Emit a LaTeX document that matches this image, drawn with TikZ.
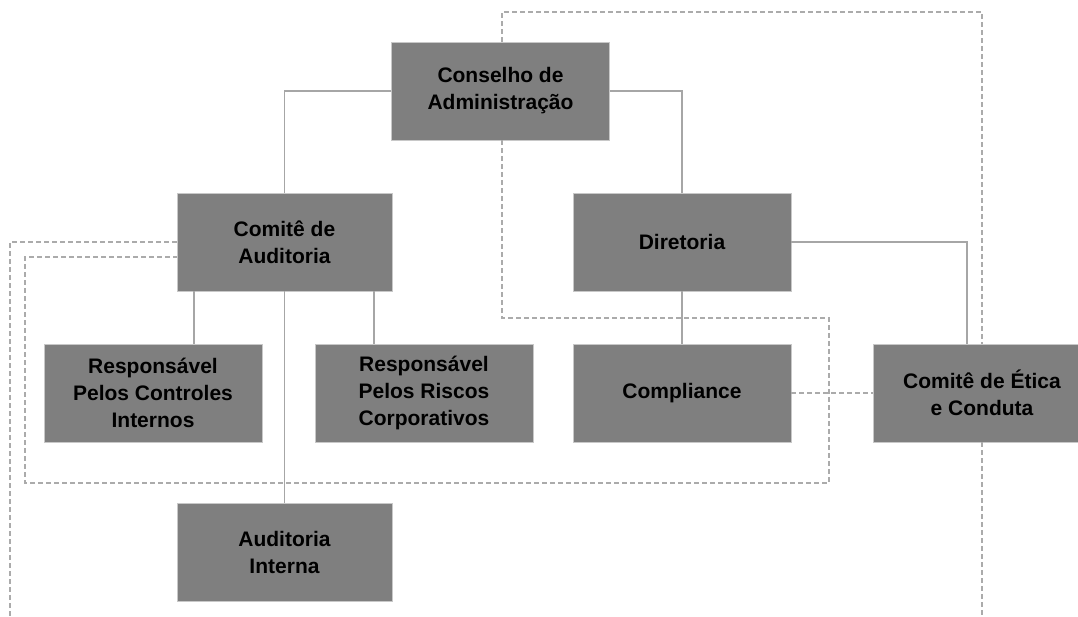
\documentclass[tikz,border=0pt]{standalone}
\usepackage{fontspec}
\setmainfont{Liberation Sans}
\begin{document}
\begin{tikzpicture}[x=1pt,y=-1pt,
  box/.style={fill=boxgray, draw=boxedge, line width=0.8pt, minimum width=218pt, minimum height=98pt,
    inner sep=0pt, align=center, font=\fontsize{21}{27}\selectfont\bfseries, text=black},
  conn/.style={draw=linegray, line width=1.4pt},
  dconn/.style={draw=dashgray, line width=1.4pt, dash pattern=on 5pt off 3pt}]
\definecolor{boxgray}{HTML}{7F7F7F}
\definecolor{boxedge}{HTML}{C8C8C8}
\definecolor{linegray}{HTML}{A6A6A6}
\definecolor{dashgray}{HTML}{ABABAB}
\useasboundingbox (0,0) rectangle (1078,616);
\clip (0,0) rectangle (1078,616);
\node[box] (cons) at (500.5,91) {Conselho de\\Administração};
\node[box, minimum width=215pt] (caud) at (284.5,242) {Comitê de\\Auditoria};
\node[box] (dir) at (682,242) {Diretoria};
\node[box] (ctrl) at (153,393) {Responsável\\Pelos Controles\\Internos};
\node[box] (risc) at (424,393) {Responsável\\Pelos Riscos\\Corporativos};
\node[box] (comp) at (682,393) {Compliance};
\node[box] (etic) at (982,393) {Comitê de Ética\\e Conduta};
\node[box, minimum width=215pt] (aint) at (284.5,552) {Auditoria\\Interna};
\coordinate (bl) at (10,616);
\coordinate (br) at (982,616);
% solid connectors
\draw[conn] (cons.west) -| (caud.north);
\draw[conn] (cons.east) -| (dir.north);
\draw[conn] (dir.east) -| ([xshift=-15pt]etic.north);
\draw[conn] (dir.south) -- (comp.north);
\draw[conn] ([xshift=-90.5pt]caud.south) -- ([xshift=41pt]ctrl.north);
\draw[conn] ([xshift=89.5pt]caud.south) -- ([xshift=-50pt]risc.north);
\draw[conn] (caud.south) -- (aint.north);
% dashed connectors
\draw[dconn] ([xshift=1.5pt]cons.south) |- (829,318) -- (829,483) -- (25,483) |- ([yshift=-15pt]caud.west);
\draw[dconn] ([xshift=1.5pt]cons.north) |- (982,12) -- (etic.north);
\draw[dconn] (caud.west) -| (bl);
\draw[dconn] (etic.south) -- (br);
\draw[dconn] (comp.east) -- (etic.west);
\end{tikzpicture}
\end{document}
